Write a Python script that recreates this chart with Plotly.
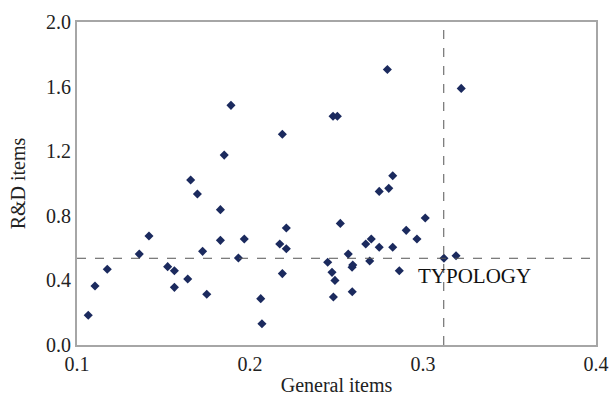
import plotly.graph_objects as go

general_items = [0.1065, 0.1104, 0.1175, 0.136, 0.1416, 0.1524, 0.1563, 0.1563, 0.164, 0.1657,
                 0.1696, 0.1726, 0.175, 0.1829, 0.1829, 0.1851, 0.189, 0.1933, 0.1967, 0.2062,
                 0.2069, 0.2172, 0.2187, 0.2187, 0.221, 0.221, 0.2449, 0.2474, 0.2482, 0.2491,
                 0.248, 0.2505, 0.2522, 0.2568, 0.259, 0.2594, 0.2591, 0.2669, 0.2692, 0.2701,
                 0.2747, 0.2747, 0.2794, 0.2802, 0.2825, 0.2825, 0.2863, 0.2903, 0.2965, 0.3013,
                 0.3121, 0.3191, 0.3221]
rd_items = [0.184, 0.365, 0.469, 0.563, 0.675, 0.485, 0.460, 0.357, 0.409, 1.022,
            0.935, 0.580, 0.314, 0.838, 0.648, 1.176, 1.484, 0.539, 0.656, 0.287,
            0.132, 0.625, 0.442, 1.305, 0.724, 0.596, 0.512, 0.450, 0.297, 0.400,
            1.416, 1.416, 0.753, 0.563, 0.481, 0.495, 0.330, 0.625, 0.520, 0.656,
            0.951, 0.605, 1.706, 0.970, 1.048, 0.605, 0.460, 0.710, 0.656, 0.786,
            0.537, 0.553, 1.589]

x_threshold = 0.312
y_threshold = 0.537
annotation_text = "TYPOLOGY"
annotation_pos = (0.3295, 0.427)

x_ticks = [0.1, 0.2, 0.3, 0.4]
y_ticks = [0.0, 0.4, 0.8, 1.2, 1.6, 2.0]

font_family = "Liberation Serif, Times New Roman, serif"

fig = go.Figure()
fig.add_trace(go.Scatter(
    x=general_items, y=rd_items, mode="markers",
    marker=dict(symbol="diamond", size=7, color="#1B2A5E"),
    showlegend=False,
))

fig.add_shape(type="line", xref="x", yref="y", x0=x_threshold, x1=x_threshold, y0=0, y1=2.0,
              line=dict(color="#555555", width=1, dash="dash"))
fig.add_shape(type="line", xref="x", yref="y", x0=0.1, x1=0.4, y0=y_threshold, y1=y_threshold,
              line=dict(color="#555555", width=1, dash="dash"))

fig.add_annotation(x=annotation_pos[0], y=annotation_pos[1], xref="x", yref="y",
                   text=annotation_text, showarrow=False,
                   font=dict(family=font_family, size=21, color="#111111"))

fig.update_xaxes(range=[0.1, 0.4], tickvals=x_ticks, ticktext=[f"{v:.1f}" for v in x_ticks],
                 showgrid=False, zeroline=False, showline=True, linecolor="#A6A6A6",
                 linewidth=2, mirror=True, ticks="", automargin=False,
                 title=dict(text="General items", font=dict(family=font_family, size=20, color="#222222")),
                 tickfont=dict(family=font_family, size=20, color="#222222"))
fig.update_yaxes(range=[0.0, 2.0], tickvals=y_ticks, ticktext=[f"{v:.1f}" for v in y_ticks],
                 showgrid=False, zeroline=False, showline=True, linecolor="#A6A6A6",
                 linewidth=2, mirror=True, ticks="", automargin=False,
                 title=dict(text="R&D items", font=dict(family=font_family, size=20, color="#222222")),
                 tickfont=dict(family=font_family, size=20, color="#222222"))

fig.update_layout(
    width=612, height=396,
    margin=dict(l=77, r=16, t=22, b=51),
    plot_bgcolor="white", paper_bgcolor="white",
)

fig.write_html(
    "out.html",
    config={"displayModeBar": False},
    post_script="document.body.style.margin='0';document.body.style.overflow='hidden';",
)
